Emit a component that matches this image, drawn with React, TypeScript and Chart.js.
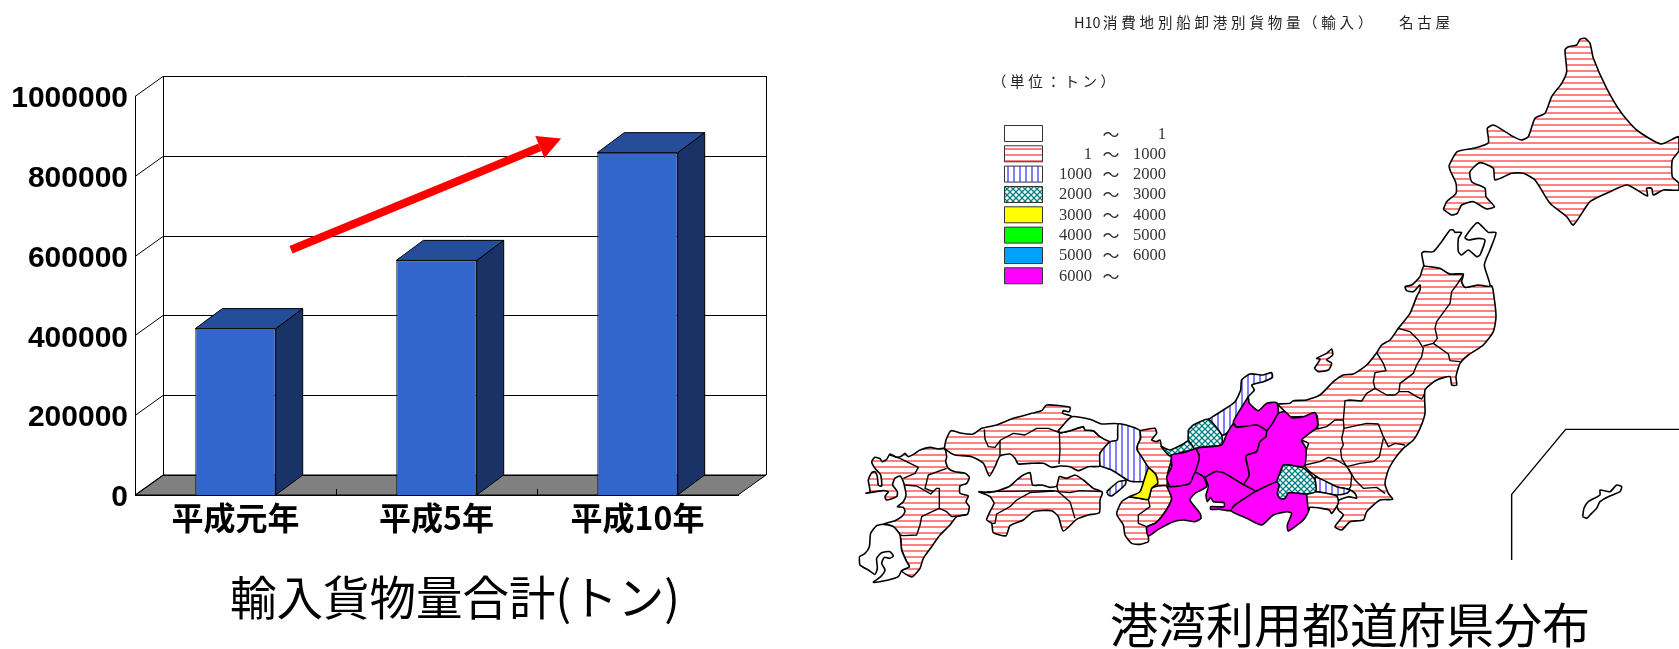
import React, { useEffect, useRef } from "react";
import { Chart, registerables } from "chart.js";

Chart.register(...registerables);

/* ---------- bar chart data ---------- */
const categories = ["平成元年", "平成5年", "平成10年"];
const importTons = [417000, 588000, 858000];
const yMax = 1000000;
const yStep = 200000;
const barTitle = "輸入貨物量合計(トン)";
const trendFrom = [0.276, 614500]; // category index, tons
const trendTo = [1.62, 893600];

/* ---------- map text ---------- */
const mapHeadParts = ["H10", "消費地別船卸港別貨物量", "（輸入）", "名古屋"];
const mapUnit = "（単位：トン）";
const mapCaption = "港湾利用都道府県分布";
const legendLow = ["", "1", "1000", "2000", "3000", "4000", "5000", "6000"];
const legendHigh = ["1", "1000", "2000", "3000", "4000", "5000", "6000", ""];
const legendFills = ["none", "h", "v", "x", "#FFFF00", "#00FF00", "#00A0FF", "#FF00FF"];

/* ---------- map outlines: flat x,y lists, each in its own survey frame ---------- */
const kyushu = [76,400,130,392,145,395,135,410,140,420,170,410,172,395,158,375,165,355,180,348,190,365,195,385,198,405,190,425,172,440,190,442,195,455,185,470,165,482,130,493,160,500,180,525,185,570,200,605,208,620,185,632,205,647,218,650,240,625,250,595,275,560,300,525,330,495,350,470,382,463,388,440,378,425,385,408,360,400,360,378,380,370,388,352,375,340,345,335,325,325,317,305,320,290,313,265,295,267,270,262,240,270,225,280,205,290,195,280,185,288,170,292,150,282,140,298,127,305,120,296,105,292,95,305,105,325,122,345,125,378,115,375,112,350,105,335,95,338,85,360,90,395,76,400];
const kagoshima = [58,590,60,615,85,630,105,643,112,625,110,595,125,578,150,575,160,588,148,595,133,592,125,610,135,630,122,650,100,667,145,660,175,650,185,632,208,620,200,605,185,570,180,525,160,500,130,493,110,497,92,520,88,560,75,580,58,590];
const shikoku = [415,395,450,397,480,390,510,378,530,360,550,345,570,338,578,375,605,375,630,382,650,378,658,350,680,355,705,345,730,360,760,385,787,397,780,420,778,458,745,465,710,478,670,513,655,470,635,452,580,455,550,480,510,497,498,527,460,518,455,490,440,480,450,455,462,430,450,410,415,395];
const chugoku = [313,265,318,240,333,212,365,220,400,222,425,205,470,195,520,175,575,160,605,152,620,135,690,142,688,155,670,152,668,160,695,170,655,212,660,218,690,212,730,200,735,210,760,212,780,230,810,245,780,280,780,318,745,320,715,332,690,320,660,318,635,322,610,310,570,310,535,312,525,295,510,282,480,288,465,320,448,348,430,310,395,290,345,285,330,278,313,265];
const tottori = [655,212,695,170,750,178,785,192,835,192,832,240,810,245,780,230,760,212,735,210,730,200,690,212,660,218,655,212];
const hyogo = [780,318,780,280,810,245,832,240,835,192,875,200,900,212,902,235,893,255,892,270,905,290,925,322,925,362,880,365,862,360,815,330,780,318];
const awaji = [800,395,835,365,858,362,855,375,815,408,805,405,800,395];
const kinkiUpper = [900,212,925,207,945,205,950,220,935,240,950,245,960,240,965,260,995,290,983,340,980,378,955,380,948,345,925,322,905,290,892,270,893,255,902,235,900,212];
const kinkiLower = [868,410,905,416,925,418,935,385,955,378,980,378,995,415,985,440,965,470,945,490,920,502,925,530,925,545,900,553,875,550,855,525,850,495,830,462,845,425,868,410];
const naraYellow = [868,410,900,395,925,325,948,345,953,370,935,385,925,418,905,416,868,410];
const westBorders = [
  [150,285,180,295,235,322,225,340,190,355],
  [320,325,265,345,255,385,280,395],
  [195,375,230,378,255,392,272,402,290,385,298,385,298,445,270,458,245,470,240,495,230,525,190,527,180,525],
  [298,445,320,455,335,470,355,468,382,463],
  [440,395,640,392,655,395,690,398,720,392,787,395],
  [650,378,655,395,690,425,705,475],
  [640,393,570,398,530,420,510,440,470,462,465,490,455,490],
  [433,208,435,238,445,260,465,262,482,240,520,220,555,225,590,205,625,205,658,218,660,270,657,312],
  [480,245,480,285],
  [925,418,930,440,895,465,895,490,920,500],
];
const fukuiEast = [205,180,220,165,265,148,305,195,305,225,240,232,222,238,205,210,205,180];
const fukuiWest = [122,228,150,240,190,222,205,212,222,238,190,245,150,258,122,228];
const ishikawa = [265,148,310,120,345,95,362,60,365,30,390,12,430,15,455,8,457,22,430,35,395,45,403,60,385,80,345,155,320,190,305,195,265,148];
const toyama = [385,80,388,100,415,122,440,100,470,98,475,130,458,160,440,183,410,168,350,170,340,155,385,80];
const gifu = [340,160,350,172,410,165,440,183,438,200,420,215,410,245,378,258,385,300,388,315,372,345,310,308,285,305,255,322,225,308,238,255,228,235,305,225,320,192,340,160];
const nagano = [440,183,458,160,475,130,495,125,515,143,550,140,585,128,592,170,545,210,558,235,552,290,490,285,470,335,405,365,372,345,388,315,378,258,410,245,420,215,438,200,440,183];
const shiga = [228,235,238,262,225,308,210,340,180,348,150,350,140,322,155,290,155,255,190,248,228,235];
const mie = [140,348,155,385,145,410,125,440,105,460,80,472,85,498,115,478,160,455,190,450,225,455,243,445,240,430,210,390,225,370,260,350,250,320,225,308,210,340,180,348,150,350,140,348];
const aichi = [255,322,285,305,310,308,372,345,405,365,345,405,333,422,300,418,272,418,272,410,312,410,312,398,280,395,272,383,262,395,258,375,265,350,255,322];
const shizuoka = [405,365,470,335,478,345,472,370,480,385,495,385,505,368,560,372,567,420,550,450,505,483,502,465,515,430,500,425,460,435,425,465,380,445,333,422,345,405,405,365];
const yamanashi = [490,285,510,285,552,295,585,330,587,365,560,372,505,368,495,385,480,385,472,370,478,345,470,335,490,285];
const tokyo = [585,320,620,335,650,350,690,360,680,370,650,375,610,370,587,365,585,320];
const kanagawa = [560,372,587,365,650,378,655,400,635,430,628,420,605,415,570,412,565,420,560,372];
const honshuEast = [172,612,210,610,220,602,260,600,300,585,340,545,370,525,400,522,440,495,470,458,485,435,510,420,535,385,570,340,590,290,600,270,600,255,580,275,560,272,555,260,575,255,600,230,612,198,660,205,690,222,730,222,725,245,735,262,775,255,815,258,822,290,828,350,820,395,790,435,745,465,720,490,708,530,710,555,695,555,690,530,650,540,615,570,615,640,600,685,580,720,550,745,525,775,505,810,495,850,505,880,518,898,480,900,440,935,430,960,390,965,365,990,345,980,370,945,355,930,350,905,385,890,410,895,405,880,385,868,345,860,290,830,255,800,250,770,265,730,242,718,262,695,292,685,290,645,265,650,245,650,210,650,195,635,172,612];
const aomori = [612,198,605,160,612,155,640,155,665,125,690,90,700,90,705,97,725,97,715,115,715,155,725,165,745,150,770,170,780,165,795,120,775,115,745,120,735,113,772,68,805,97,828,98,810,150,793,195,810,258,775,255,735,262,725,245,730,222,690,222,660,205,612,198];
const sado = [283,505,300,478,290,475,320,460,335,447,338,465,320,480,335,490,325,510,295,515,283,505];
const okinawa = [1088,950,1092,925,1105,905,1140,885,1140,870,1170,875,1190,855,1205,860,1200,875,1165,890,1140,905,1130,925,1110,945,1100,955,1088,950];
const insetFrame = [875,1080,875,883,1037,688,1377,688];
const eastBorders = [
  [730,225,710,255,695,275,690,310,650,365,645,385,652,415,640,430,610,438],
  [535,385,570,395,595,420,610,445,605,470,590,495,580,520,540,550,537,575],
  [640,430,685,462,690,482,720,485],
  [470,458,490,490,498,512,465,518,460,545,465,565,500,585,525,585,537,575,565,575,590,590,605,597,615,580],
  [465,565,440,580,425,603,390,600,375,602,370,660,345,660,320,680,292,687],
  [370,660,372,685,440,670,475,672,490,710,505,740,525,730,555,735],
  [490,715,478,770,460,785,420,790,380,800,365,775,362,750,370,735,365,715,372,685],
  [255,795,300,785,325,772,350,780,380,798,395,825,392,860,385,870],
  [385,805,405,840,430,865,470,862,495,880],
];
const hokkaido = [190,568,200,545,228,520,228,490,210,450,208,435,232,395,280,385,325,368,322,325,340,315,360,325,400,350,425,360,445,350,465,295,495,280,515,230,545,190,560,155,555,90,565,80,590,75,600,58,615,55,630,70,640,115,680,205,725,280,770,330,843,372,897,350,897,392,877,420,877,470,897,490,897,510,850,510,820,525,815,505,800,505,802,528,742,495,690,515,630,545,580,615,560,590,510,550,465,480,430,460,395,460,345,480,340,445,300,428,270,455,275,485,315,505,318,530,343,560,320,567,280,545,245,555,232,580,215,585,190,568];

type Frame = [number, number];
const westFrame: Frame = [840, 360];
const midFrame: Frame = [1120, 370];
const eastFrame: Frame = [1220, 200];
const northFrame: Frame = [1380, 20];

const mapRegions: [number[], Frame, string][] = [
  [hokkaido, northFrame, "h"],
  [honshuEast, eastFrame, "h"],
  [aomori, eastFrame, "none"],
  [sado, eastFrame, "h"],
  [okinawa, eastFrame, "none"],
  [kyushu, westFrame, "h"],
  [kagoshima, westFrame, "none"],
  [shikoku, westFrame, "h"],
  [chugoku, westFrame, "h"],
  [tottori, westFrame, "none"],
  [hyogo, westFrame, "v"],
  [awaji, westFrame, "v"],
  [kinkiUpper, westFrame, "h"],
  [kinkiLower, westFrame, "h"],
  [naraYellow, westFrame, "#FFFF00"],
  [ishikawa, midFrame, "v"],
  [fukuiEast, midFrame, "x"],
  [fukuiWest, midFrame, "x"],
  [toyama, midFrame, "#FF00FF"],
  [gifu, midFrame, "#FF00FF"],
  [nagano, midFrame, "#FF00FF"],
  [shiga, midFrame, "#FF00FF"],
  [mie, midFrame, "#FF00FF"],
  [aichi, midFrame, "#FF00FF"],
  [shizuoka, midFrame, "#FF00FF"],
  [tokyo, midFrame, "v"],
  [kanagawa, midFrame, "h"],
  [yamanashi, midFrame, "x"],
];
const mapLines: [number[], Frame][] = [
  ...westBorders.map((l): [number[], Frame] => [l, westFrame]),
  ...eastBorders.map((l): [number[], Frame] => [l, eastFrame]),
  [insetFrame, eastFrame],
];

const toPoints = (flat: number[], f: Frame) => {
  const pts: { x: number; y: number }[] = [];
  for (let i = 0; i < flat.length; i += 2) pts.push({ x: flat[i] / 3 + f[0], y: flat[i + 1] / 3 + f[1] });
  return pts;
};

const JP = '"Noto Sans CJK JP", "Noto Sans", sans-serif';
const SERIF = '"Liberation Serif", "DejaVu Serif", serif';
const DIGITS = '"Liberation Sans", Arial, sans-serif';

/* ---------- fill patterns ---------- */
function tile(w: number, h: number, draw: (c: CanvasRenderingContext2D) => void) {
  const cv = document.createElement("canvas");
  cv.width = w;
  cv.height = h;
  const c = cv.getContext("2d")!;
  c.fillStyle = "#fff";
  c.fillRect(0, 0, w, h);
  draw(c);
  return c.createPattern(cv, "repeat")!;
}
function makeFills() {
  const h = tile(6, 6, (c) => { c.fillStyle = "#FF8080"; c.fillRect(0, 4, 6, 2); });
  const v = tile(6, 6, (c) => { c.fillStyle = "#8080FF"; c.fillRect(3, 0, 2, 6); });
  const x = tile(6, 6, (c) => {
    c.strokeStyle = "#008080";
    c.lineWidth = 1.3;
    c.beginPath();
    c.moveTo(-1, -1); c.lineTo(7, 7);
    c.moveTo(7, -1); c.lineTo(-1, 7);
    c.stroke();
  });
  return (key: string): any => (key === "h" ? h : key === "v" ? v : key === "x" ? x : key === "none" ? "#fff" : key);
}

/* ---------- 3D box plugin for the bars ---------- */
const wallDx = 28, wallDy = 20, barDx = 27, barDy = 20;
const box3d = {
  id: "box3d",
  beforeDatasetsDraw(chart: any) {
    const { ctx, scales } = chart;
    const xs = scales.x, ys = scales.y;
    const L = xs.left, R = xs.right, B = ys.bottom;
    ctx.save();
    ctx.fillStyle = "#808080";
    ctx.beginPath();
    ctx.moveTo(L, B); ctx.lineTo(R, B); ctx.lineTo(R + wallDx, B - wallDy); ctx.lineTo(L + wallDx, B - wallDy);
    ctx.closePath();
    ctx.fill();
    ctx.strokeStyle = "#000";
    ctx.lineWidth = 1;
    ctx.stroke();
    ctx.beginPath();
    for (const t of ys.ticks) {
      const y = Math.round(ys.getPixelForValue(t.value)) + 0.5;
      ctx.moveTo(L, y); ctx.lineTo(L + wallDx, y - wallDy);
      ctx.moveTo(L + wallDx, y - wallDy); ctx.lineTo(R + wallDx, y - wallDy);
    }
    const top = ys.getPixelForValue(yMax) - wallDy;
    ctx.moveTo(L + wallDx + 0.5, top); ctx.lineTo(L + wallDx + 0.5, B - wallDy);
    ctx.moveTo(R + wallDx + 0.5, top); ctx.lineTo(R + wallDx + 0.5, B - wallDy);
    const cat = (R - L) / categories.length;
    for (let i = 1; i < categories.length; i++) {
      const x = Math.round(L + i * cat) + 0.5;
      ctx.moveTo(x, B); ctx.lineTo(x, B - 6);
    }
    ctx.stroke();
    ctx.restore();
  },
  afterDatasetsDraw(chart: any) {
    const { ctx } = chart;
    ctx.save();
    ctx.strokeStyle = "#000";
    ctx.lineWidth = 1;
    for (const bar of chart.getDatasetMeta(0).data) {
      const { x, y, base, width } = bar.getProps(["x", "y", "base", "width"], true);
      const r = x + width / 2, l = x - width / 2;
      ctx.fillStyle = "#1A3366";
      ctx.beginPath();
      ctx.moveTo(r, y); ctx.lineTo(r + barDx, y - barDy); ctx.lineTo(r + barDx, base - barDy); ctx.lineTo(r, base);
      ctx.closePath(); ctx.fill(); ctx.stroke();
      ctx.fillStyle = "#264D99";
      ctx.beginPath();
      ctx.moveTo(l, y); ctx.lineTo(l + barDx, y - barDy); ctx.lineTo(r + barDx, y - barDy); ctx.lineTo(r, y);
      ctx.closePath(); ctx.fill(); ctx.stroke();
    }
    // trend arrow
    const sx = chart.scales.x, sy = chart.scales.y;
    const x0 = sx.getPixelForValue(trendFrom[0]), y0 = sy.getPixelForValue(trendFrom[1]);
    const x1 = sx.getPixelForValue(trendTo[0]), y1 = sy.getPixelForValue(trendTo[1]);
    const a = Math.atan2(y1 - y0, x1 - x0);
    const hl = 23, hw = 12;
    const bx = x1 - hl * Math.cos(a), by = y1 - hl * Math.sin(a);
    ctx.strokeStyle = "#FF0000";
    ctx.fillStyle = "#FF0000";
    ctx.lineWidth = 8;
    ctx.beginPath(); ctx.moveTo(x0, y0); ctx.lineTo(bx, by); ctx.stroke();
    ctx.beginPath();
    ctx.moveTo(x1, y1);
    ctx.lineTo(bx - hw * Math.sin(a), by + hw * Math.cos(a));
    ctx.lineTo(bx + hw * Math.sin(a), by - hw * Math.cos(a));
    ctx.closePath(); ctx.fill();
    ctx.restore();
  },
};

/* ---------- map text + legend plugin ---------- */
function mapText(fills: (k: string) => any) {
  return {
    id: "mapText",
    afterDatasetsDraw(chart: any) {
      const { ctx, scales } = chart;
      const X = (v: number) => scales.x.getPixelForValue(v);
      const Y = (v: number) => scales.y.getPixelForValue(v);
      ctx.save();
      ctx.textBaseline = "middle";
      ctx.fillStyle = "#222";
      ctx.font = `14.5px ${JP}`;
      ctx.textAlign = "left";
      ctx.letterSpacing = "0px";
      ctx.fillText(mapHeadParts[0], X(1074), Y(22));
      ctx.letterSpacing = "3.8px";
      ctx.fillText(mapHeadParts[1], X(1103), Y(22));
      ctx.fillText(mapHeadParts[2], X(1303), Y(22));
      ctx.fillText(mapHeadParts[3], X(1399), Y(22));
      ctx.letterSpacing = "3.6px";
      ctx.fillText(mapUnit, X(992), Y(81));
      ctx.letterSpacing = "0px";
      const rowTop = [125, 145.3, 165.6, 186, 206.3, 226.6, 247, 267.3];
      const rowText = [135, 155, 175, 195, 216, 236, 256, 277];
      legendFills.forEach((k, i) => {
        ctx.fillStyle = fills(k);
        ctx.strokeStyle = "#333";
        ctx.lineWidth = 1;
        ctx.beginPath();
        ctx.rect(X(1004.5), Y(rowTop[i]) + 0.5, 38, 16);
        ctx.fill();
        ctx.stroke();
        ctx.fillStyle = "#333";
        ctx.font = `16.5px ${SERIF}`;
        ctx.textAlign = "right";
        if (legendLow[i]) ctx.fillText(legendLow[i], X(1092), Y(rowText[i]));
        if (legendHigh[i]) ctx.fillText(legendHigh[i], X(1166), Y(rowText[i]));
        ctx.textAlign = "center";
        ctx.font = `17px ${JP}`;
        ctx.fillText("〜", X(1111), Y(rowText[i]));
      });
      ctx.fillStyle = "#000";
      ctx.font = `48px ${JP}`;
      ctx.textAlign = "center";
      ctx.fillText(mapCaption, X(1350), Y(625));
      ctx.restore();
    },
  };
}

export default function App() {
  const barRef = useRef<HTMLCanvasElement>(null);
  const mapRef = useRef<HTMLCanvasElement>(null);

  useEffect(() => {
    const fills = makeFills();
    const bar = new Chart(barRef.current!, {
      type: "bar",
      data: {
        labels: categories,
        datasets: [{
          label: barTitle,
          data: importTons,
          backgroundColor: "#3366CC",
          borderColor: "#000",
          borderWidth: 1,
          barPercentage: 0.4,
          categoryPercentage: 1,
        }],
      },
      options: {
        animation: false,
        responsive: false,
        devicePixelRatio: 1,
        layout: { padding: { top: 96, bottom: 28, left: 0, right: 0 } },
        plugins: {
          legend: { display: false },
          tooltip: { enabled: false },
          title: {
            display: true,
            text: barTitle,
            position: "bottom",
            color: "#000",
            padding: 0,
            font: { family: JP, size: 46.5, weight: "normal", lineHeight: 1 },
          },
        },
        scales: {
          x: {
            grid: { display: false, drawTicks: false },
            border: { color: "#000", width: 1 },
            afterFit: (s: any) => { s.height = 79.5; },
            ticks: { color: "#000", padding: 4, maxRotation: 0, font: { family: JP, size: 32, weight: "bold" } },
          },
          y: {
            min: 0,
            max: yMax,
            afterFit: (s: any) => { s.width = 135; },
            grid: { display: false, drawTicks: false },
            border: { color: "#000", width: 1 },
            ticks: {
              stepSize: yStep,
              autoSkip: false,
              color: "#000",
              padding: 7,
              labelOffset: 3,
              font: { family: DIGITS, size: 30, weight: "bold" },
              callback: (v: any) => String(v),
            },
          },
          y2: {
            position: "right",
            min: 0,
            max: yMax,
            afterFit: (s: any) => { s.width = 172; },
            grid: { display: false, drawTicks: false },
            border: { display: false },
            ticks: { display: false },
          },
        },
      } as any,
      plugins: [box3d],
    });

    const regionSets = mapRegions.map(([flat, frame, key]) => ({
      data: toPoints(flat, frame),
      showLine: true,
      fill: "shape",
      backgroundColor: fills(key),
      borderColor: "#000",
      borderWidth: 1.6,
      borderJoinStyle: "round",
      pointRadius: 0,
      tension: 0.2,
    }));
    const lineSets = mapLines.map(([flat, frame]) => ({
      data: toPoints(flat, frame),
      showLine: true,
      fill: false,
      borderColor: "#000",
      borderWidth: 1.4,
      borderJoinStyle: "round",
      pointRadius: 0,
      tension: 0,
    }));
    const map = new Chart(mapRef.current!, {
      type: "scatter",
      data: { datasets: [...regionSets, ...lineSets].reverse() as any },
      options: {
        animation: false,
        responsive: false,
        devicePixelRatio: 1,
        layout: { padding: 0 },
        plugins: { legend: { display: false }, tooltip: { enabled: false }, title: { display: false } },
        scales: {
          x: { type: "linear", min: 800, max: 1679, display: false },
          y: { type: "linear", min: 0, max: 649, reverse: true, display: false },
        },
      } as any,
      plugins: [mapText(fills)],
    });
    return () => { bar.destroy(); map.destroy(); };
  }, []);

  return (
    <div style={{ position: "fixed", left: 0, top: 0, width: 1679, height: 649, background: "#fff", overflow: "hidden" }}>
      <canvas ref={barRef} width={910} height={649} style={{ position: "absolute", left: 0, top: 0, display: "block" }} />
      <canvas ref={mapRef} width={879} height={649} style={{ position: "absolute", left: 800, top: 0, display: "block" }} />
    </div>
  );
}
